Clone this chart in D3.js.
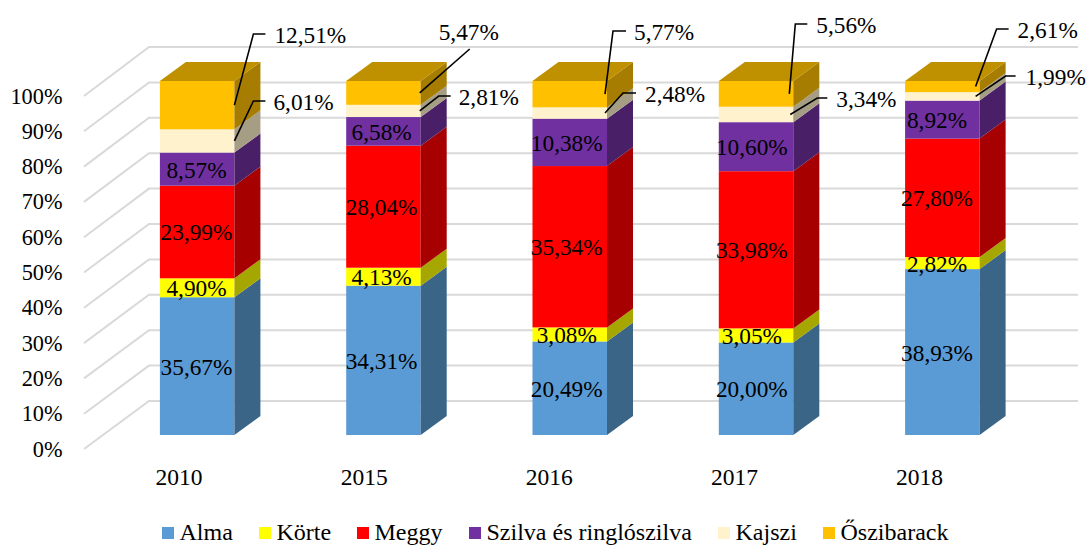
<!DOCTYPE html>
<html>
<head>
<meta charset="utf-8">
<script src="https://cdn.jsdelivr.net/npm/d3@7/dist/d3.min.js"></script>
<style>
  html, body { margin: 0; padding: 0; background: #fff; }
  text { font-family: "Liberation Serif", serif; fill: #000; }
</style>
</head>
<body>
<div id="chart"></div>
<script>
const years = ["2010", "2015", "2016", "2017", "2018"];
const seriesNames = ["Alma", "Körte", "Meggy", "Szilva és ringlószilva", "Kajszi", "Őszibarack"];
const alma = [35.67, 34.31, 20.49, 20.00, 38.93];
const korte = [4.90, 4.13, 3.08, 3.05, 2.82];
const meggy = [23.99, 28.04, 35.34, 33.98, 27.80];
const szilva = [8.57, 6.58, 10.38, 10.60, 8.92];
const kajszi = [6.01, 2.81, 2.48, 3.34, 1.99];
const oszibarack = [12.51, 5.47, 5.77, 5.56, 2.61];
const yTicks = [0, 0.1, 0.2, 0.3, 0.4, 0.5, 0.6, 0.7, 0.8, 0.9, 1];

const frontColors = ["#5b9bd5", "#ffff00", "#ff0000", "#7030a0", "#fff2cc", "#ffc000"];
const sideColors = ["#3a6587", "#a6a600", "#a60000", "#492068", "#a69d85", "#a67d00"];
const topColor = "#bf9000";

// leader placement for the two small top series, relative to bar right edge / bar top
// [end dx, elbow dx, elbow dy, tail length, label dx, label dy]
const kajsziLeaders = [
  [0, 19, 20, 12, 39, 29],
  [-1, 18, 15, 12, 38, 24],
  [-2, 16, 12, 13, 38, 21],
  [-3, 24, 17, 10, 43, 26],
  [-4, 26, -5, 10, 46, 4]
];
const osziLeaders = [
  [0, 19, -47, 12, 40, -38],
  [-1, 49, -32, 0, 18, -41],
  [-2, 6, -50, 13, 27, -41],
  [-4, 2, -57, 12, 23, -48],
  [-4, 17, -52, 12, 38, -43]
];

const width = 1087;
const height = 545;
const depthX = 26;
const depthY = 19;

const svg = d3.select("#chart").append("svg")
  .attr("width", width)
  .attr("height", height)
  .style("display", "block");

const x = d3.scaleBand().domain(years).range([104, 1035.5]).paddingInner(0.6).paddingOuter(0.3);
// year and inner labels sit on a slightly tighter spacing than the bars (3d projection)
const xLabel = d3.scalePoint().domain(years).range([179, 919.5]);
// front plane of the bars
const y = d3.scaleLinear().domain([0, 1]).range([435, 81]);

// back wall + left side wall gridlines
const yWall = d3.scaleLinear().domain([0, 1]).range([401, 47]);
const yFloor = d3.scaleLinear().domain([0, 1]).range([449, 96]);

const grid = svg.append("g").attr("stroke", "#d9d9d9").attr("stroke-width", 2).attr("fill", "none");
yTicks.forEach(t => {
  grid.append("path").attr("d", `M84,${yFloor(t)}L149,${yWall(t)}L1078,${yWall(t)}`);
  svg.append("text")
    .attr("x", 62.5).attr("y", yFloor(t) + 7.5)
    .attr("text-anchor", "end")
    .style("font-size", "22.3px")
    .text(d3.format(".0%")(t));
});

const rows = years.map((yr, i) => ({
  year: yr,
  Alma: alma[i], "Körte": korte[i], Meggy: meggy[i],
  "Szilva és ringlószilva": szilva[i], Kajszi: kajszi[i], "Őszibarack": oszibarack[i]
}));
const stacked = d3.stack().keys(seriesNames).offset(d3.stackOffsetExpand)(rows);

const bars = svg.append("g");
stacked.forEach((layer, s) => {
  layer.forEach(d => {
    const x0 = x(d.data.year), x1 = x0 + x.bandwidth();
    const yb = y(d[0]), yt = y(d[1]);
    bars.append("rect")
      .attr("x", x0).attr("y", yt)
      .attr("width", x.bandwidth()).attr("height", yb - yt)
      .attr("fill", frontColors[s]);
    bars.append("path")
      .attr("d", `M${x1},${yb}L${x1 + depthX},${yb - depthY}L${x1 + depthX},${yt - depthY}L${x1},${yt}Z`)
      .attr("fill", sideColors[s]);
    if (s === seriesNames.length - 1) {
      bars.append("path")
        .attr("d", `M${x0},${yt}L${x0 + depthX},${yt - depthY}L${x1 + depthX},${yt - depthY}L${x1},${yt}Z`)
        .attr("fill", topColor);
    }
  });
});

// inner labels for the first four series
const labelFmt = v => v.toFixed(2).replace(".", ",") + "%";
const values = [alma, korte, meggy, szilva, kajszi, oszibarack];
stacked.slice(0, 4).forEach((layer, s) => {
  layer.forEach((d, i) => {
    svg.append("text")
      .attr("x", xLabel(d.data.year) + 17.5)
      .attr("y", y((d[0] + d[1]) / 2) + 8.5)
      .attr("text-anchor", "middle")
      .style("font-size", "23.3px")
      .text(labelFmt(values[s][i]));
  });
});

// outside labels with leader lines
const leaderGroup = svg.append("g").attr("stroke", "#000").attr("stroke-width", 1.6).attr("fill", "none");
[[4, kajsziLeaders], [5, osziLeaders]].forEach(([s, leaders]) => {
  stacked[s].forEach((d, i) => {
    const x1 = x(d.data.year) + x.bandwidth();
    const [endDx, elbowDx, elbowDy, tail, labelDx, labelDy] = leaders[i];
    const ax = x1 + endDx, ay = y((d[0] + d[1]) / 2);
    const ex = x1 + elbowDx, ey = y(1) + elbowDy;
    leaderGroup.append("path").attr("d", `M${ax},${ay}L${ex},${ey}L${ex + tail},${ey}`);
    svg.append("text")
      .attr("x", x1 + labelDx).attr("y", y(1) + labelDy)
      .style("font-size", "23.3px")
      .text(labelFmt(values[s][i]));
  });
});

// year labels
years.forEach(yr => {
  svg.append("text")
    .attr("x", xLabel(yr)).attr("y", 485)
    .attr("text-anchor", "middle")
    .style("font-size", "23.5px")
    .text(yr);
});

// legend
const legendX = [162, 259, 357, 469, 718, 823];
seriesNames.forEach((name, s) => {
  svg.append("rect").attr("x", legendX[s]).attr("y", 527).attr("width", 12).attr("height", 12).attr("fill", frontColors[s]);
  svg.append("text").attr("x", legendX[s] + 17.5).attr("y", 540).style("font-size", "24px").text(name);
});
</script>
</body>
</html>
